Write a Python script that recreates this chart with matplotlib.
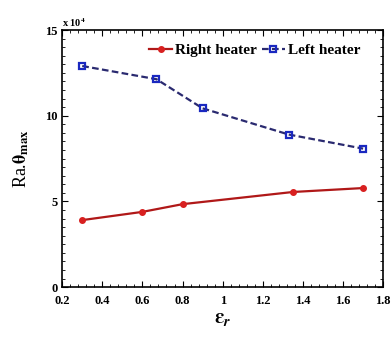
import matplotlib.pyplot as plt
from matplotlib.ticker import MultipleLocator, FormatStrFormatter

plt.rcParams['font.family'] = ['Liberation Serif', 'DejaVu Serif']
plt.rcParams['font.weight'] = 'bold'
plt.rcParams['mathtext.fontset'] = 'stix'

eps_right = [0.3, 0.6, 0.8, 1.35, 1.7]
ra_right = [39100, 43900, 48400, 55500, 57800]

eps_left = [0.3, 0.67, 0.9, 1.33, 1.7]
ra_left = [129000, 121300, 104300, 89000, 80800]

scale = 1e4

fig = plt.figure(figsize=(3.91, 3.41), dpi=100)
ax = fig.add_axes([0.159, 0.158, 0.821, 0.754])

ax.plot(eps_right, [v / scale for v in ra_right], color='#b01818', lw=1.6,
        marker='o', ms=4, mfc='#d82020', mec='#d82020', label='Right heater')
ax.plot(eps_left, [v / scale for v in ra_left], color='#2a2a70', lw=1.6,
        ls=(0, (3, 1.5)), marker='s', ms=5, mfc='none', mec='#1a28c0', mew=1.6,
        label='Left heater')

ax.set_xlim(0.2, 1.8)
ax.set_ylim(0, 15)
ax.xaxis.set_major_locator(MultipleLocator(0.2))
ax.xaxis.set_minor_locator(MultipleLocator(0.04))
ax.xaxis.set_major_formatter(FormatStrFormatter('%g'))
ax.yaxis.set_major_locator(MultipleLocator(5))
ax.yaxis.set_minor_locator(MultipleLocator(0.5))
ax.tick_params(which='both', direction='in', top=True, right=True, labelsize=9)
ax.tick_params(axis='x', which='major', pad=6)
ax.tick_params(which='major', length=4)
ax.tick_params(which='minor', length=2)
for s in ax.spines.values():
    s.set_linewidth(1.2)

ax.text(0.0, 1.005, r'x 10$^4$', transform=ax.transAxes, fontsize=7.5,
        ha='left', va='bottom')

ax.set_xlabel(r'$\mathbf{\varepsilon}_{\mathit{r}}$', fontsize=15, labelpad=1)
ax.set_ylabel(r'Ra.$\mathbf{\theta}_{\mathrm{max}}$', fontsize=13, labelpad=10)

ax.legend(loc='upper center', bbox_to_anchor=(0.6, 1.0), ncol=2, frameon=False,
          fontsize=11, handlelength=1.5, handletextpad=0.2, columnspacing=0.3)

fig.savefig('out.png', dpi=100)
